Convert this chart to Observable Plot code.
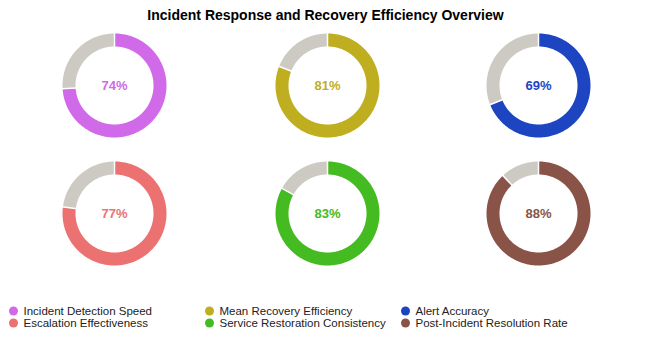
<!DOCTYPE html>
<html>
<head>
<meta charset="utf-8">
<script src="https://cdn.jsdelivr.net/npm/d3@7"></script>
<script src="https://cdn.jsdelivr.net/npm/@observablehq/plot@0.6"></script>
<style>
  html, body { margin: 0; padding: 0; background: #fff; }
  #chart { width: 650px; height: 349px; }
</style>
</head>
<body>
<div id="chart"></div>
<script>
const metrics = ["Incident Detection Speed", "Mean Recovery Efficiency", "Alert Accuracy",
                 "Escalation Effectiveness", "Service Restoration Consistency", "Post-Incident Resolution Rate"];
const values = [74, 81, 69, 77, 83, 88];
const colors = ["#d06ae8", "#bfae1f", "#1d45c2", "#ec7171", "#45bb22", "#8a5347"];
const title = "Incident Response and Recovery Efficiency Overview";

const W = 650, H = 349;
const colX = [114, 327, 538];
const rowY = [85, 213];
const rOuter = 52, rInner = 39;
const rMid = (rOuter + rInner) / 2, thick = rOuter - rInner;
const gray = "#cdcac4";

function pt(cx, cy, r, deg) {
  const a = deg * Math.PI / 180;
  return [cx + r * Math.sin(a), cy - r * Math.cos(a)];
}

const arcPts = [];
const seps = [];
const centers = [];
metrics.forEach((m, i) => {
  const cx = colX[i % 3], cy = rowY[Math.floor(i / 3)];
  centers.push({x: cx, y: cy, label: values[i] + "%", color: colors[i]});
  const end = values[i] * 3.6;
  const segs = [[0, end, colors[i], "v" + i], [end, 360, gray, "g" + i]];
  for (const [a0, a1, c, key] of segs) {
    const n = Math.max(2, Math.ceil(a1 - a0));
    for (let k = 0; k <= n; k++) {
      const d = a0 + (a1 - a0) * k / n;
      const [x, y] = pt(cx, cy, rMid, d);
      arcPts.push({x, y, key, color: c});
    }
  }
  for (const d of [0, end]) {
    const [x1, y1] = pt(cx, cy, rInner - 1, d);
    const [x2, y2] = pt(cx, cy, rOuter + 1, d);
    seps.push({x1, y1, x2, y2});
  }
});

const legendX = [13, 209, 405];
const legendY = [310.5, 322.5];
const legend = metrics.map((m, i) => ({
  x: legendX[i % 3], y: legendY[Math.floor(i / 3)], label: m, color: colors[i]
}));

const plot = Plot.plot({
  width: W, height: H,
  margin: 0,
  x: {domain: [0, W], range: [0, W], axis: null},
  y: {domain: [0, H], range: [0, H], axis: null},
  style: {fontFamily: "Liberation Sans, Arial, sans-serif", background: "#fff"},
  marks: [
    Plot.line(arcPts, {x: "x", y: "y", z: "key", stroke: "color", strokeWidth: thick, strokeLinecap: "butt", strokeLinejoin: "round"}),
    Plot.link(seps, {x1: "x1", y1: "y1", x2: "x2", y2: "y2", stroke: "#fff", strokeWidth: 1.5}),
    Plot.text(centers, {x: "x", y: "y", text: "label", fill: "color", fontSize: 13, fontWeight: "bold"}),
    Plot.text([title], {x: W / 2, y: 15, text: d => d, fontSize: 14, fontWeight: "bold", fill: "#000"}),
    Plot.dot(legend, {x: "x", y: "y", r: 4.5, fill: "color"}),
    Plot.text(legend, {x: d => d.x + 10, y: "y", text: "label", textAnchor: "start", fontSize: 11.5, fill: "#222"})
  ]
});
document.getElementById("chart").appendChild(plot);
</script>
</body>
</html>
